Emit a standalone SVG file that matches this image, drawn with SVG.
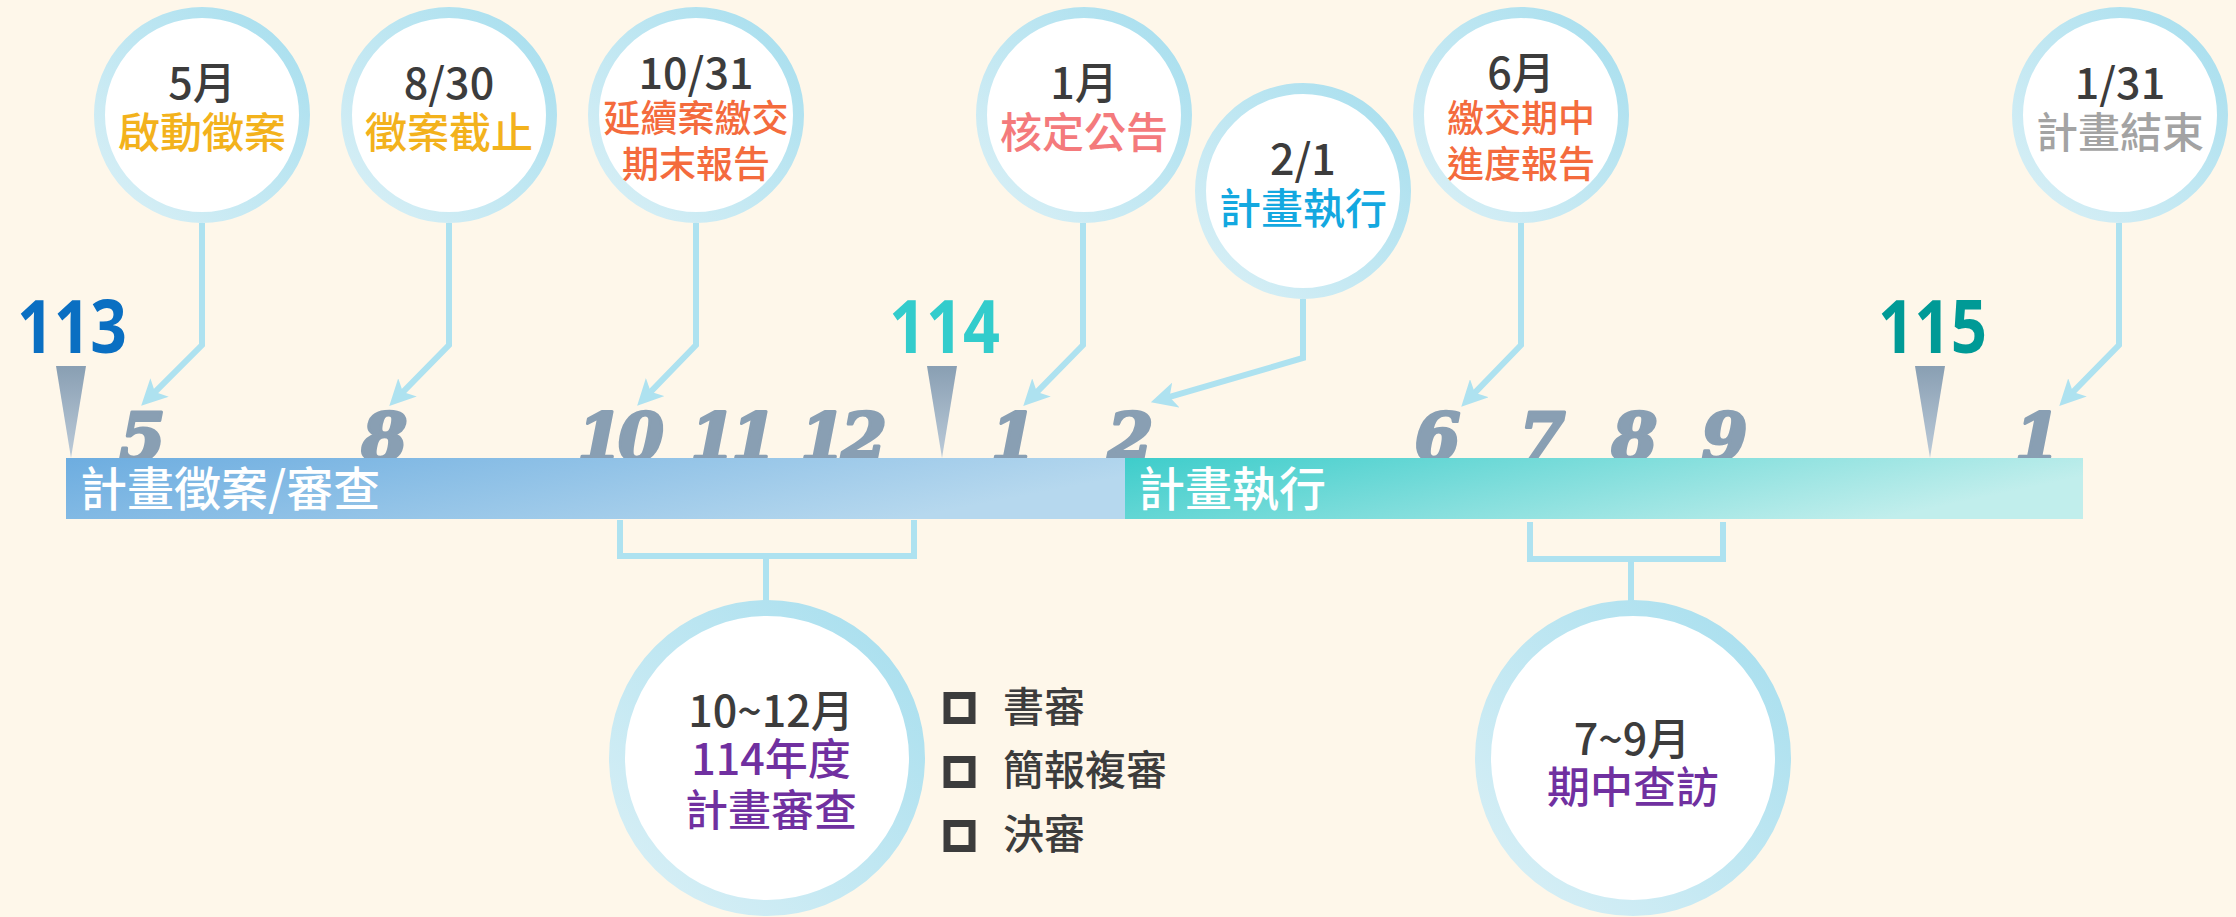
<svg xmlns="http://www.w3.org/2000/svg" width="2236" height="917" viewBox="0 0 2236 917">
<defs>
<linearGradient id="ring" x1="1" y1="0" x2="0" y2="1">
<stop offset="0" stop-color="#A6DEEE"/>
<stop offset="1" stop-color="#DAF0F6"/>
</linearGradient>
<linearGradient id="tri" x1="0" y1="0" x2="0" y2="1">
<stop offset="0" stop-color="#899FB3"/>
<stop offset="1" stop-color="#BCCBD9"/>
</linearGradient>
<linearGradient id="barL" x1="0" y1="0" x2="1" y2="0.3">
<stop offset="0" stop-color="#6DADE0"/>
<stop offset="1" stop-color="#B6D8EE"/>
</linearGradient>
<linearGradient id="barR" x1="0" y1="0" x2="1" y2="0.3">
<stop offset="0" stop-color="#3ECDCB"/>
<stop offset="1" stop-color="#C1EEEC"/>
</linearGradient>
<marker id="arrow" markerUnits="userSpaceOnUse" markerWidth="26" markerHeight="26" refX="10" refY="12" orient="auto" viewBox="0 0 24 24">
<path d="M0,0 L24,12 L0,24 L6,12 z" fill="#AEE2F0"/>
</marker>
<style>
.bg{fill:#FEF7EA}
.ring{fill:#FFFFFF;stroke:url(#ring);stroke-width:11}
.ringB{fill:#FFFFFF;stroke:url(#ring);stroke-width:16}
.t{font-family:'Noto Sans CJK TC','Noto Sans CJK SC','Noto Sans',sans-serif;text-anchor:middle;font-weight:500}
.d{fill:#3C3C3C;font-size:43px}
.big{font-size:42px}
.sm{font-size:37px}
.gold{fill:#F3B21C}
.orange{fill:#F46B3D}
.pink{fill:#F47A7C}
.blue{fill:#13A8E0}
.gray{fill:#A3A3A3}
.purple{fill:#7030A0}
.conn{fill:none;stroke:#AEE2F0;stroke-width:6;stroke-linejoin:miter}
.month{font-family:'DejaVu Serif',serif;font-weight:bold;font-style:italic;font-size:66px;fill:#899FB3;stroke:#899FB3;stroke-width:3;stroke-linejoin:round;text-anchor:middle;letter-spacing:-5px}
.year{font-family:'Noto Sans','Noto Sans CJK TC',sans-serif;font-weight:bold;font-size:73px}
.bartext{font-family:'Noto Sans CJK TC','Noto Sans CJK SC',sans-serif;font-size:47px;fill:#FFFFFF;font-weight:500}
.box{fill:none;stroke:#3C3C3C;stroke-width:7}
.list{font-family:'Noto Sans CJK TC','Noto Sans CJK SC',sans-serif;font-size:41px;fill:#3C3C3C;font-weight:500}
</style>
</defs>
<rect class="bg" x="0" y="0" width="2236" height="917"/>

<!-- month numbers (partly behind the bar) -->
<g id="months">
<text class="month" x="140" y="460">5</text>
<text class="month" x="382" y="460">8</text>
<text class="month" x="618" y="460">10</text>
<text class="month" x="731" y="460">11</text>
<text class="month" x="841" y="460">12</text>
<text class="month" x="1011" y="460">1</text>
<text class="month" x="1128" y="460">2</text>
<text class="month" x="1435" y="460">6</text>
<text class="month" x="1540" y="460">7</text>
<text class="month" x="1632" y="460">8</text>
<text class="month" x="1722" y="460">9</text>
<text class="month" x="2035" y="460">1</text>
</g>

<!-- years -->
<g id="year113">
<text class="year" x="17" y="353" fill="#0A6FC2" textLength="110" lengthAdjust="spacingAndGlyphs">113</text>
<polygon points="56,366 86,366 71,458" fill="url(#tri)"/>
</g>
<g id="year114">
<text class="year" x="889" y="353" fill="#33CCCC" textLength="111" lengthAdjust="spacingAndGlyphs">114</text>
<polygon points="927,366 957,366 942,458" fill="url(#tri)"/>
</g>
<g id="year115">
<text class="year" x="1878" y="353" fill="#009A96" textLength="109" lengthAdjust="spacingAndGlyphs">115</text>
<polygon points="1915,366 1945,366 1930,458" fill="url(#tri)"/>
</g>

<!-- bars -->
<g id="bar-review">
<rect x="66" y="458" width="1060" height="61" fill="url(#barL)"/>
<text class="bartext" x="80" y="506">計畫徵案/審查</text>
</g>
<g id="bar-exec">
<rect x="1125" y="458" width="958" height="61" fill="url(#barR)"/>
<text class="bartext" x="1138" y="506">計畫執行</text>
</g>

<!-- connectors -->
<g id="connectors">
<path class="conn" d="M202,223 V345 L151.9,395.1" marker-end="url(#arrow)"/>
<path class="conn" d="M449,223 V345 L399.9,395.1" marker-end="url(#arrow)"/>
<path class="conn" d="M696,223 V345 L647.7,394.9" marker-end="url(#arrow)"/>
<path class="conn" d="M1083,223 V345 L1033.9,395.1" marker-end="url(#arrow)"/>
<path class="conn" d="M1303,299 V358 L1165.4,398.1" marker-end="url(#arrow)"/>
<path class="conn" d="M1521,223 V345 L1471.8,395.9" marker-end="url(#arrow)"/>
<path class="conn" d="M2119,223 V345 L2069.9,395.1" marker-end="url(#arrow)"/>
<path class="conn" d="M620,520 V556 H914 V520 M766,556 V601"/>
<path class="conn" d="M1530,522 V559 H1723 V522 M1631,559 V601"/>
</g>

<!-- top circles -->
<g id="n-may">
<circle class="ring" cx="202" cy="115" r="102.5"/>
<text class="t d" x="202" y="99">5月</text>
<text class="t big gold" x="202" y="148">啟動徵案</text>
</g>
<g id="n-aug30">
<circle class="ring" cx="449" cy="115" r="102.5"/>
<text class="t d" x="449" y="99">8/30</text>
<text class="t big gold" x="449" y="148">徵案截止</text>
</g>
<g id="n-oct31">
<circle class="ring" cx="696" cy="115" r="102.5"/>
<text class="t d" x="696" y="89">10/31</text>
<text class="t sm orange" x="696" y="132">延續案繳交</text>
<text class="t sm orange" x="696" y="178">期末報告</text>
</g>
<g id="n-jan">
<circle class="ring" cx="1084" cy="115" r="102.5"/>
<text class="t d" x="1084" y="99">1月</text>
<text class="t big pink" x="1084" y="148">核定公告</text>
</g>
<g id="n-feb1">
<circle class="ring" cx="1303" cy="191" r="102.5"/>
<text class="t d" x="1303" y="175">2/1</text>
<text class="t big blue" x="1303" y="224">計畫執行</text>
</g>
<g id="n-jun">
<circle class="ring" cx="1521" cy="115" r="102.5"/>
<text class="t d" x="1521" y="89">6月</text>
<text class="t sm orange" x="1521" y="132">繳交期中</text>
<text class="t sm orange" x="1521" y="178">進度報告</text>
</g>
<g id="n-jan31">
<circle class="ring" cx="2120" cy="115" r="102.5"/>
<text class="t d" x="2120" y="99">1/31</text>
<text class="t big gray" x="2120" y="148">計畫結束</text>
</g>

<!-- bottom circles -->
<g id="n-review">
<circle class="ringB" cx="767" cy="758" r="150"/>
<text class="t d" x="771" y="727">10~12月</text>
<text class="t d purple" x="771" y="775">114年度</text>
<text class="t d purple" x="771" y="826">計畫審查</text>
</g>
<g id="n-review-list">
<rect class="box" x="947" y="695.5" width="25" height="25"/>
<text class="list" x="1003" y="722">書審</text>
<rect class="box" x="947" y="759.5" width="25" height="25"/>
<text class="list" x="1003" y="785">簡報複審</text>
<rect class="box" x="947" y="823.5" width="25" height="25"/>
<text class="list" x="1003" y="849">決審</text>
</g>
<g id="n-visit">
<circle class="ringB" cx="1633" cy="758" r="150"/>
<text class="t d" x="1632" y="755">7~9月</text>
<text class="t d purple" x="1633" y="803">期中查訪</text>
</g>
</svg>
